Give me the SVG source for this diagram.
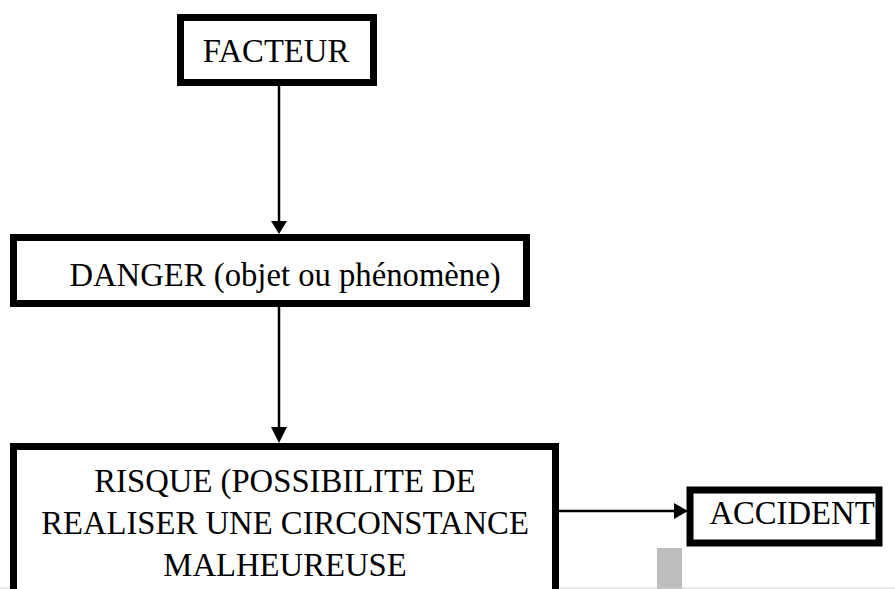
<svg xmlns="http://www.w3.org/2000/svg" width="895" height="589" viewBox="0 0 895 589">
<style>
.box{fill:#fff;stroke:#000;stroke-width:7}
.t{font-family:"Liberation Serif","Times New Roman",serif;font-size:32.7px;fill:#000;text-anchor:middle}
.c{stroke:#000;stroke-width:2.5;fill:none}
</style>
<rect width="895" height="589" fill="#fff"/>
<rect x="657" y="548" width="25" height="41" fill="#bdbdbd"/>
<line x1="0" y1="588" x2="895" y2="588" stroke="#cfcfcf" stroke-width="1"/>
<g id="connectors">
<line class="c" x1="279" y1="86" x2="279" y2="222"/>
<polygon points="271,221 287,221 279,234"/>
<line class="c" x1="279" y1="307" x2="279" y2="428"/>
<polygon points="271,427 287,427 279,443"/>
<line class="c" x1="559" y1="511" x2="676" y2="511"/>
<polygon points="674,503 674,519 688,511"/>
</g>
<g id="facteur">
<rect class="box" x="180.5" y="17.5" width="193" height="65"/>
<text class="t" x="276" y="62">FACTEUR</text>
</g>
<g id="danger">
<rect class="box" x="13.5" y="237.5" width="513" height="66"/>
<text class="t" x="285" y="286">DANGER (objet ou phénomène)</text>
</g>
<g id="risque">
<rect class="box" x="13.5" y="446.5" width="542" height="160"/>
<text class="t" x="285" y="492">RISQUE (POSSIBILITE DE</text>
<text class="t" x="285" y="534">REALISER UNE CIRCONSTANCE</text>
<text class="t" x="285" y="576">MALHEUREUSE</text>
</g>
<g id="accident">
<rect class="box" x="690" y="490" width="189" height="53"/>
<text class="t" x="792" y="524">ACCIDENT</text>
</g>
</svg>
